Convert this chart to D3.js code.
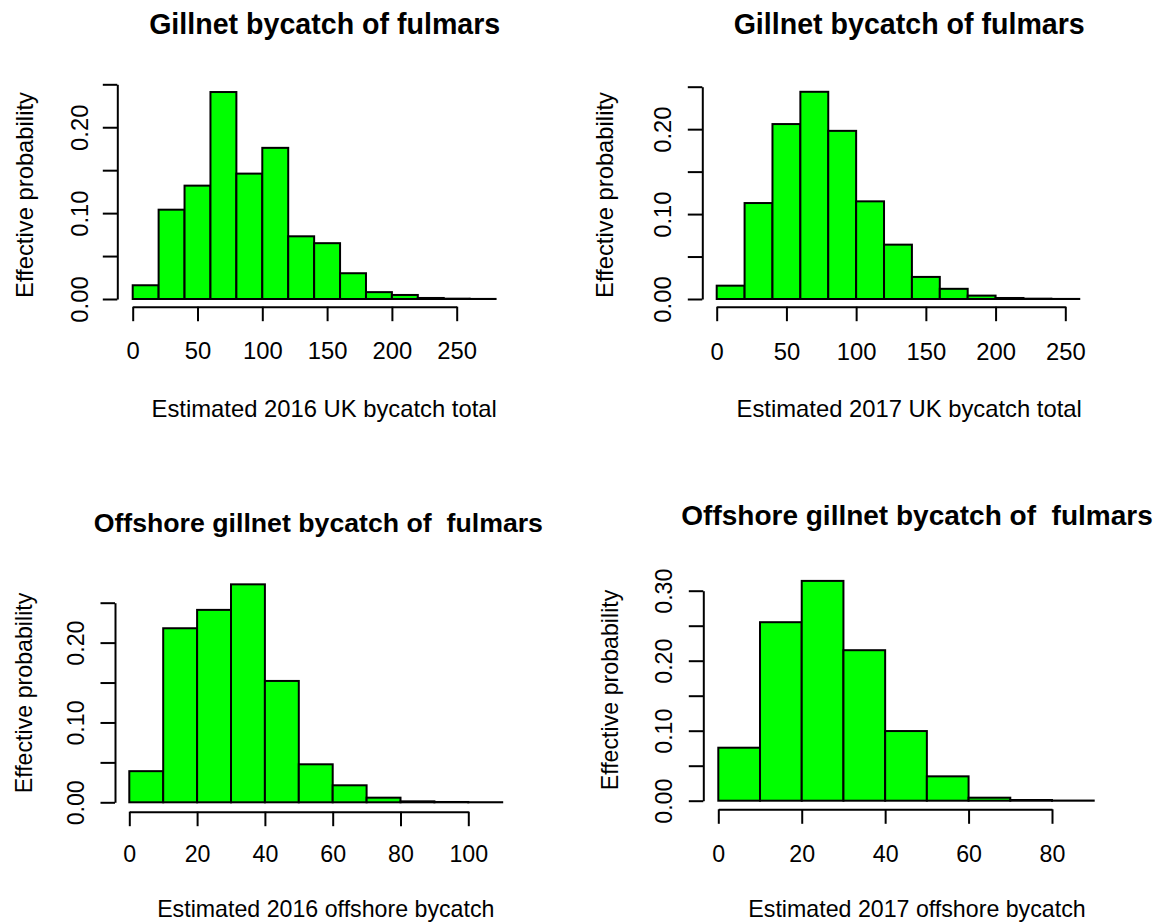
<!DOCTYPE html>
<html>

<head>
    <meta charset="utf-8">
    <title>Fulmar bycatch</title>
</head>
<style>
body {
    margin: 0;
    background-color: #fff;
}

text {
    font-family: "Liberation Sans", Arial, sans-serif;
    fill: #000;
}

.bar {
    fill: #00ff00;
    stroke: #000;
    stroke-width: 2px;
}

.axis path, .axis line {
    stroke: #000;
    stroke-width: 2px;
}
</style>

<body>
    <div id="graphic"></div>
    <script src="https://d3js.org/d3.v7.min.js"></script>
    <script>

    // histogram breaks and bar heights (effective probability)
    var breaks2016UK = [0, 20, 40, 60, 80, 100, 120, 140, 160, 180, 200, 220, 240, 260, 280];
    var prob2016UK = [0.016, 0.104, 0.132, 0.241, 0.146, 0.176, 0.073, 0.065, 0.030, 0.008, 0.0047, 0.0012, 0.0004, 0.0001];

    var breaks2017UK = [0, 20, 40, 60, 80, 100, 120, 140, 160, 180, 200, 220, 240, 260];
    var prob2017UK = [0.0157, 0.113, 0.206, 0.244, 0.198, 0.115, 0.064, 0.026, 0.012, 0.004, 0.0012, 0.0004, 0.0001];

    var breaks2016Off = [0, 10, 20, 30, 40, 50, 60, 70, 80, 90, 100, 110];
    var prob2016Off = [0.039, 0.218, 0.241, 0.273, 0.152, 0.0476, 0.0213, 0.0058, 0.0012, 0.0004, 0.0001];

    var breaks2017Off = [0, 10, 20, 30, 40, 50, 60, 70, 80, 90];
    var prob2017Off = [0.0757, 0.255, 0.314, 0.215, 0.0995, 0.0348, 0.0043, 0.001, 0.0002];

    // axis ticks
    var ukTicks = [0, 50, 100, 150, 200, 250];
    var off2016Ticks = [0, 20, 40, 60, 80, 100];
    var off2017Ticks = [0, 20, 40, 60, 80];
    var probTicks = [0, 0.05, 0.10, 0.15, 0.20, 0.25];
    var probTicksWide = [0, 0.05, 0.10, 0.15, 0.20, 0.25, 0.30];

    var titles = ["Gillnet bycatch of fulmars", "Gillnet bycatch of fulmars",
        "Offshore gillnet bycatch of  fulmars", "Offshore gillnet bycatch of  fulmars"];
    var xLabels = ["Estimated 2016 UK bycatch total", "Estimated 2017 UK bycatch total",
        "Estimated 2016 offshore bycatch", "Estimated 2017 offshore bycatch"];
    var yLabel = "Effective probability";

    var w = 1161;
    var h = 922;

    var svg = d3.select("#graphic")
        .append("svg")
        .attr("width", w)
        .attr("height", h);

    // pixel layout of each panel
    var panels = [
        { breaks: breaks2016UK, probs: prob2016UK, xTicks: ukTicks, yTicks: probTicks,
          x0: 132.7, x1: 456.7, y0: 299, y1: 84.3, yAxisX: 117.3, xAxisY: 306.7,
          tickLab: 29, xTickLab: 52.5, fs: 23.8,
          title: [324.7, 33.5, 28.6], ylab: [33, 195], xlab: [324.2, 416.5] },
        { breaks: breaks2017UK, probs: prob2017UK, xTicks: ukTicks, yTicks: probTicks,
          x0: 716.7, x1: 1065.3, y0: 299, y1: 86.7, yAxisX: 702.3, xAxisY: 306.7,
          tickLab: 31.5, xTickLab: 53, fs: 23.8,
          title: [909.2, 34, 28.6], ylab: [613, 195], xlab: [909.2, 416.5] },
        { breaks: breaks2016Off, probs: prob2016Off, xTicks: off2016Ticks, yTicks: probTicks,
          x0: 129.3, x1: 468.3, y0: 802.3, y1: 602.7, yAxisX: 115, xAxisY: 811.7,
          tickLab: 31.5, xTickLab: 50.5, fs: 23.2,
          title: [318.3, 531.5, 26.7], ylab: [32, 693], xlab: [325.8, 916.5] },
        { breaks: breaks2017Off, probs: prob2017Off, xTicks: off2017Ticks, yTicks: probTicksWide,
          x0: 718.3, x1: 1052, y0: 800.7, y1: 590.7, yAxisX: 703.3, xAxisY: 809.3,
          tickLab: 31.8, xTickLab: 52.4, fs: 23.2,
          title: [917, 525, 28], ylab: [618, 690], xlab: [917, 916.5] }
    ];

    panels.forEach(function(p, k) {

        var xMax = p.xTicks[p.xTicks.length - 1];
        var yMax = p.yTicks[p.yTicks.length - 1];

        var x = d3.scaleLinear().domain([0, xMax]).range([p.x0, p.x1]);
        var y = d3.scaleLinear().domain([0, yMax]).range([p.y0, p.y1]);

        var bins = p.probs.map(function(v, i) {
            return { lo: p.breaks[i], hi: p.breaks[i + 1], v: v };
        });

        var g = svg.append("g");

        g.selectAll("rect")
            .data(bins)
            .enter().append("rect")
            .attr("class", "bar")
            .attr("x", function(d) { return x(d.lo); })
            .attr("width", function(d) { return x(d.hi) - x(d.lo); })
            .attr("y", function(d) { return y(d.v); })
            .attr("height", function(d) { return y(0) - y(d.v); });

        // x axis, offset below the bars like R's hist
        var xAxis = g.append("g")
            .attr("class", "axis")
            .attr("transform", "translate(0," + p.xAxisY + ")")
            .call(d3.axisBottom(x).tickValues(p.xTicks).tickSize(14.5).tickSizeOuter(0)
                .tickFormat(d3.format("d")));
        xAxis.selectAll("text")
            .attr("y", p.xTickLab)
            .attr("dy", 0)
            .style("font-size", p.fs + "px");

        // y axis with every other tick labelled, labels parallel to axis
        var yAxis = g.append("g")
            .attr("class", "axis")
            .attr("transform", "translate(" + p.yAxisX + ",0)")
            .call(d3.axisLeft(y).tickValues(p.yTicks).tickSize(14.5).tickSizeOuter(0)
                .tickFormat(function(d, i) { return i % 2 === 0 ? d3.format(".2f")(d) : ""; }));
        yAxis.selectAll("text")
            .attr("transform", "rotate(-90)")
            .attr("text-anchor", "middle")
            .attr("x", 0)
            .attr("y", -p.tickLab)
            .attr("dy", 0)
            .style("font-size", p.fs + "px");

        g.selectAll(".axis").attr("fill", null).attr("font-family", null);

        g.append("text")
            .attr("x", p.title[0])
            .attr("y", p.title[1])
            .attr("text-anchor", "middle")
            .style("font-size", p.title[2] + "px")
            .style("font-weight", "bold")
            .style("white-space", "pre")
            .text(titles[k]);

        g.append("text")
            .attr("transform", "translate(" + p.ylab[0] + "," + p.ylab[1] + ") rotate(-90)")
            .attr("text-anchor", "middle")
            .style("font-size", p.fs + "px")
            .text(yLabel);

        g.append("text")
            .attr("x", p.xlab[0])
            .attr("y", p.xlab[1])
            .attr("text-anchor", "middle")
            .style("font-size", p.fs + "px")
            .text(xLabels[k]);
    });
    </script>
</body>

</html>
